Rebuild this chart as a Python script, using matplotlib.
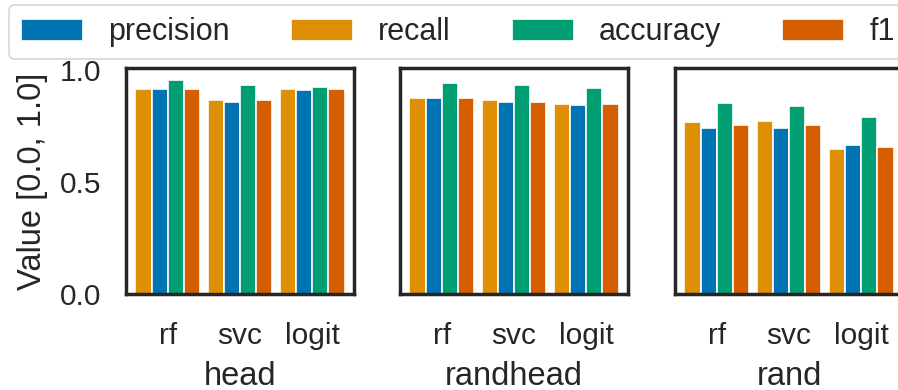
import matplotlib
matplotlib.use("Agg")
import matplotlib.pyplot as plt
import numpy as np
from matplotlib.patches import Patch

plt.rcParams["font.family"] = ["Liberation Sans", "DejaVu Sans"]
plt.rcParams["text.color"] = "#262626"
plt.rcParams["axes.labelcolor"] = "#262626"
plt.rcParams["xtick.color"] = "#262626"
plt.rcParams["ytick.color"] = "#262626"

models = ["rf", "svc", "logit"]
datasets = ["head", "randhead", "rand"]
legend_order = ["precision", "recall", "accuracy", "f1"]
bar_order = ["recall", "precision", "accuracy", "f1"]
metric_colors = {"precision": "#0173B2", "recall": "#DE8F05",
                 "accuracy": "#029E73", "f1": "#D55E00"}

# scores per dataset, one value per model (rf, svc, logit)
head_precision = [0.918, 0.859, 0.912]
head_recall = [0.918, 0.869, 0.918]
head_accuracy = [0.958, 0.933, 0.927]
head_f1 = [0.918, 0.865, 0.915]

randhead_precision = [0.874, 0.856, 0.844]
randhead_recall = [0.876, 0.865, 0.850]
randhead_accuracy = [0.942, 0.932, 0.921]
randhead_f1 = [0.874, 0.859, 0.847]

rand_precision = [0.744, 0.741, 0.664]
rand_recall = [0.768, 0.775, 0.649]
rand_accuracy = [0.853, 0.841, 0.789]
rand_f1 = [0.757, 0.757, 0.658]

scores = {
    "head": {"precision": head_precision, "recall": head_recall,
             "accuracy": head_accuracy, "f1": head_f1},
    "randhead": {"precision": randhead_precision, "recall": randhead_recall,
                 "accuracy": randhead_accuracy, "f1": randhead_f1},
    "rand": {"precision": rand_precision, "recall": rand_recall,
             "accuracy": rand_accuracy, "f1": rand_f1},
}

W, H = 898, 390
fig = plt.figure(figsize=(W / 100, H / 100), dpi=100)

ax_left_px = [126, 400, 675]
ax_w_px, ax_top_px, ax_bot_px = 228, 68, 294

TICK_FS = 21.5
LABEL_FS = 23.5
LEGEND_FS = 22

group_width = 0.9
bar_w = group_width / len(bar_order)
x = np.arange(len(models))

for i, (ds, lpx) in enumerate(zip(datasets, ax_left_px)):
    ax = fig.add_axes([lpx / W, 1 - ax_bot_px / H, ax_w_px / W,
                       (ax_bot_px - ax_top_px) / H])
    for j, m in enumerate(bar_order):
        offs = (j - (len(bar_order) - 1) / 2) * bar_w
        ax.bar(x + offs, scores[ds][m], width=bar_w, color=metric_colors[m],
               edgecolor="white", linewidth=1.2, zorder=2)
    ax.set_xlim(-0.58, 2.58)
    ax.set_ylim(0, 1.01)
    ax.set_xticks(x)
    ax.set_xticklabels(models)
    ax.set_yticks([0.0, 0.5, 1.0])
    ax.tick_params(axis="both", length=0, labelsize=TICK_FS)
    ax.tick_params(axis="x", pad=20)
    ax.tick_params(axis="y", pad=18)
    ax.set_xlabel(ds, fontsize=LABEL_FS, labelpad=8)
    for sp in ax.spines.values():
        sp.set_color("#262626")
        sp.set_linewidth(2.5)
    if i == 0:
        ax.set_yticklabels(["0.0", "0.5", "1.0"])
        ax.set_ylabel("Value [0.0, 1.0]", fontsize=LABEL_FS, labelpad=8)
    else:
        ax.set_yticklabels([])

handles = [Patch(facecolor=metric_colors[m], edgecolor="white", linewidth=0.5)
           for m in legend_order]
leg = fig.legend(handles, legend_order, loc="upper left",
                 bbox_to_anchor=(9 / W, 1 - 5 / H), ncol=4, fontsize=LEGEND_FS,
                 frameon=True, fancybox=True, borderaxespad=0,
                 handletextpad=0.85, columnspacing=2.0)
leg.get_frame().set_edgecolor("#cccccc")
leg.get_frame().set_linewidth(1.2)

fig.savefig("out.png", dpi=100)
